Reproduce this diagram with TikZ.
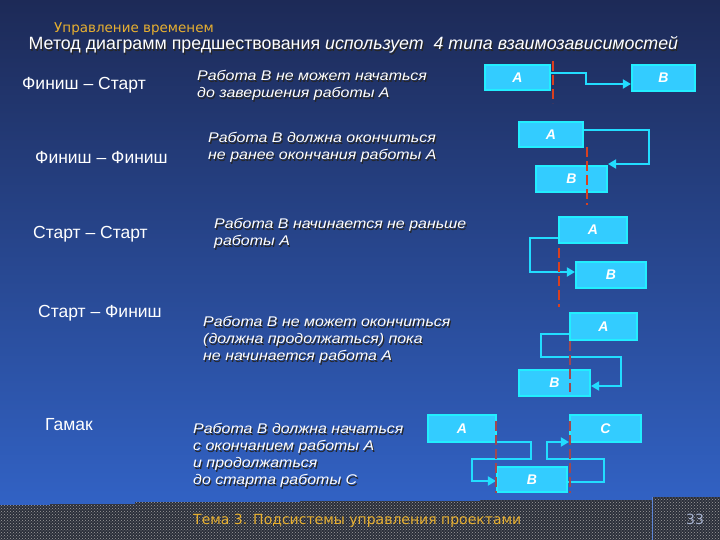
\documentclass[tikz,border=0pt]{standalone}
\usepackage{fontspec}
\setmainfont{Liberation Sans}
\newfontfamily\descfont{Liberation Sans}[FakeStretch=1.14]
\newfontfamily\dejafont{DejaVu Sans}
\usetikzlibrary{arrows.meta,patterns}
\definecolor{bgtop}{HTML}{1D2A57}
\definecolor{bgmid}{HTML}{2A4A92}
\definecolor{bgbot}{HTML}{3366CC}
\definecolor{boxfill}{HTML}{33CCFF}
\definecolor{boxedge}{HTML}{22EEFF}
\definecolor{linkc}{HTML}{22DDFF}
\definecolor{redA}{HTML}{D9401F}
\definecolor{redB}{HTML}{A04850}
\definecolor{gold}{HTML}{E8B030}
\definecolor{footc}{HTML}{2B2F3A}
\definecolor{pagec}{HTML}{A8B4D0}
\newcommand\shadowed[4]{%
  \node[#3, text=black!85] (#1-sh) at ([shift={(1.2,1.2)}]#2) {#4};
  \node[#3, text=white] (#1) at (#2) {#4};}
\tikzset{
  box/.style={draw=boxedge, fill=boxfill, line width=1.6pt, inner sep=0pt,
    text=white, font=\bfseries\itshape\fontsize{14}{16}\selectfont},
  linkline/.style={draw=linkc, line width=1.8pt},
  arrowend/.style={-{Triangle[length=8pt,width=9pt]}},
  redline/.style={line width=1.9pt, dash pattern=on 10pt off 4pt},
  desc/.style={font=\descfont\itshape\fontsize{14}{17}\selectfont, align=left,
    anchor=north west, inner sep=0pt},
  label/.style={font=\fontsize{17.5}{20}\selectfont, text=white, anchor=base west, inner sep=0pt},
  titlestyle/.style={font=\fontsize{17.8}{20}\selectfont, anchor=base west, inner sep=0pt}
}
\begin{document}
\begin{tikzpicture}[x=1pt,y=-1pt]
\useasboundingbox (0,0) rectangle (720,540);
% background
\shade[top color=bgtop, middle color=bgmid, bottom color=bgbot] (0,0) rectangle (720,540);
% footer band
\fill[footc] (0,505) -- (50,505) -- (50,504) -- (135,504) -- (135,502) -- (300,502)
  -- (300,501) -- (480,501) -- (480,500) -- (652,500) -- (652,497) -- (720,497)
  -- (720,540) -- (0,540) -- cycle;
\fill[pattern=crosshatch dots, pattern color=gray!75] (0,505) -- (50,505) -- (50,504) -- (135,504) -- (135,502) -- (300,502)
  -- (300,501) -- (480,501) -- (480,500) -- (652,500) -- (652,497) -- (720,497)
  -- (720,540) -- (0,540) -- cycle;
\draw[color=bgbot!80!white, line width=0.8pt] (652,497) -- (652,540);

% header and title
\node[font=\dejafont\fontsize{13.5}{16}\selectfont, text=gold, anchor=base west, inner sep=0pt] (hdr) at (54,33) {Управление временем};
\shadowed{title}{28.5,50}{titlestyle}{Метод диаграмм предшествования \textit{использует\ \ 4 типа взаимозависимостей}}

% left labels
\node[label] (lfs) at (22,90) {Финиш – Старт};
\node[label] (lff) at (35,164) {Финиш – Финиш};
\node[label] (lss) at (33,238) {Старт – Старт};
\node[label] (lsf) at (38,317) {Старт – Финиш};
\node[label] (lh) at (45,430) {Гамак};

% descriptions
\shadowed{dfs}{197,70.5}{desc}{Работа B не может начаться\\до завершения работы A}
\shadowed{dff}{208,132.5}{desc}{Работа B должна окончиться\\не ранее окончания работы A}
\shadowed{dss}{214,218.5}{desc}{Работа B начинается не раньше\\работы A}
\shadowed{dsf}{203,316.5}{desc}{Работа B не может окончиться\\(должна продолжаться) пока\\не начинается работа A}
\shadowed{dh}{193,423.5}{desc}{Работа B должна начаться\\с окончанием работы A\\и продолжаться\\до старта работы C}

% boxes
\node[box, minimum width=65.5, minimum height=25.5] (fsA) at (517.5,77.5) {A};
\node[box, minimum width=63.5, minimum height=26.5] (fsB) at (663.5,78) {B};
\node[box, minimum width=64.5, minimum height=25.5] (ffA) at (551,134.5) {A};
\node[box, minimum width=71.5, minimum height=26.5] (ffB) at (571.5,179) {B};
\node[box, minimum width=68.5, minimum height=26.5] (ssA) at (593,230) {A};
\node[box, minimum width=70.5, minimum height=26.5] (ssB) at (611,275) {B};
\node[box, minimum width=67.5, minimum height=27.5] (sfA) at (603.5,326.5) {A};
\node[box, minimum width=71.5, minimum height=26.5] (sfB) at (554.5,383) {B};
\node[box, minimum width=68.5, minimum height=27.5] (hA) at (462,428.5) {A};
\node[box, minimum width=71.5, minimum height=27.5] (hC) at (605.5,428.5) {C};
\node[box, minimum width=70.5, minimum height=25.5] (hB) at (532,479.5) {B};

% link coordinates
\coordinate (fs1) at (586,73);  \coordinate (fs2) at (586,84);
\coordinate (ff1) at (649,130); \coordinate (ff2) at (649,164);
\coordinate (ss1) at (530,238); \coordinate (ss2) at (530,272);
\coordinate (sf1) at (541,334); \coordinate (sf2) at (541,357);
\coordinate (sf3) at (621,357); \coordinate (sf4) at (621,386);
\coordinate (h1) at (531,442); \coordinate (h2) at (531,459);
\coordinate (h3) at (472,459); \coordinate (h4) at (472,481);
\coordinate (h5) at (604,482); \coordinate (h6) at (604,459);
\coordinate (h7) at (547,459); \coordinate (h8) at (547,442);

% links
\draw[linkline, arrowend] (fsA.east |- fs1) -- (fs1) -- (fs2) -- (fsB.west |- fs2);
\draw[linkline, arrowend] (ffA.east |- ff1) -- (ff1) -- (ff2) -- (ffB.east |- ff2);
\draw[linkline, arrowend] (ssA.west |- ss1) -- (ss1) -- (ss2) -- (ssB.west |- ss2);
\draw[linkline, arrowend] (sfA.west |- sf1) -- (sf1) -- (sf2) -- (sf3) -- (sf4) -- (sfB.east |- sf4);
\draw[linkline, arrowend] (hA.east |- h1) -- (h1) -- (h2) -- (h3) -- (h4) -- (hB.west |- h4);
\draw[linkline, arrowend] (hB.east |- h5) -- (h5) -- (h6) -- (h7) -- (h8) -- (hC.west |- h8);

% red dashed time lines
\coordinate (r1a) at (553,61);  \coordinate (r1b) at (553,103);
\coordinate (r2a) at (587,147); \coordinate (r2b) at (587,205);
\coordinate (r3a) at (559,248); \coordinate (r3b) at (559,307);
\coordinate (r4a) at (570,341); \coordinate (r4b) at (570,392);
\coordinate (r5a) at (496,421); \coordinate (r5b) at (496,493);
\coordinate (r6a) at (570,421); \coordinate (r6b) at (570,493);
\draw[redline, draw=redA] (r1a) -- (r1b);
\draw[redline, draw=redA] (r2a) -- (r2b);
\draw[redline, draw=redA] (r3a) -- (r3b);
\draw[redline, draw=redB] (r4a) -- (r4b);
\draw[redline, draw=redB] (r5a) -- (r5b);
\draw[redline, draw=redB] (r6a) -- (r6b);

% footer texts
\node[font=\dejafont\fontsize{14}{16}\selectfont, text=gold, anchor=base west, inner sep=0pt] (foot) at (193,524) {Тема 3. Подсистемы управления проектами};
\node[font=\dejafont\fontsize{14}{16}\selectfont, text=pagec, anchor=base west, inner sep=0pt] (page) at (686,524) {33};
\end{tikzpicture}
\end{document}
